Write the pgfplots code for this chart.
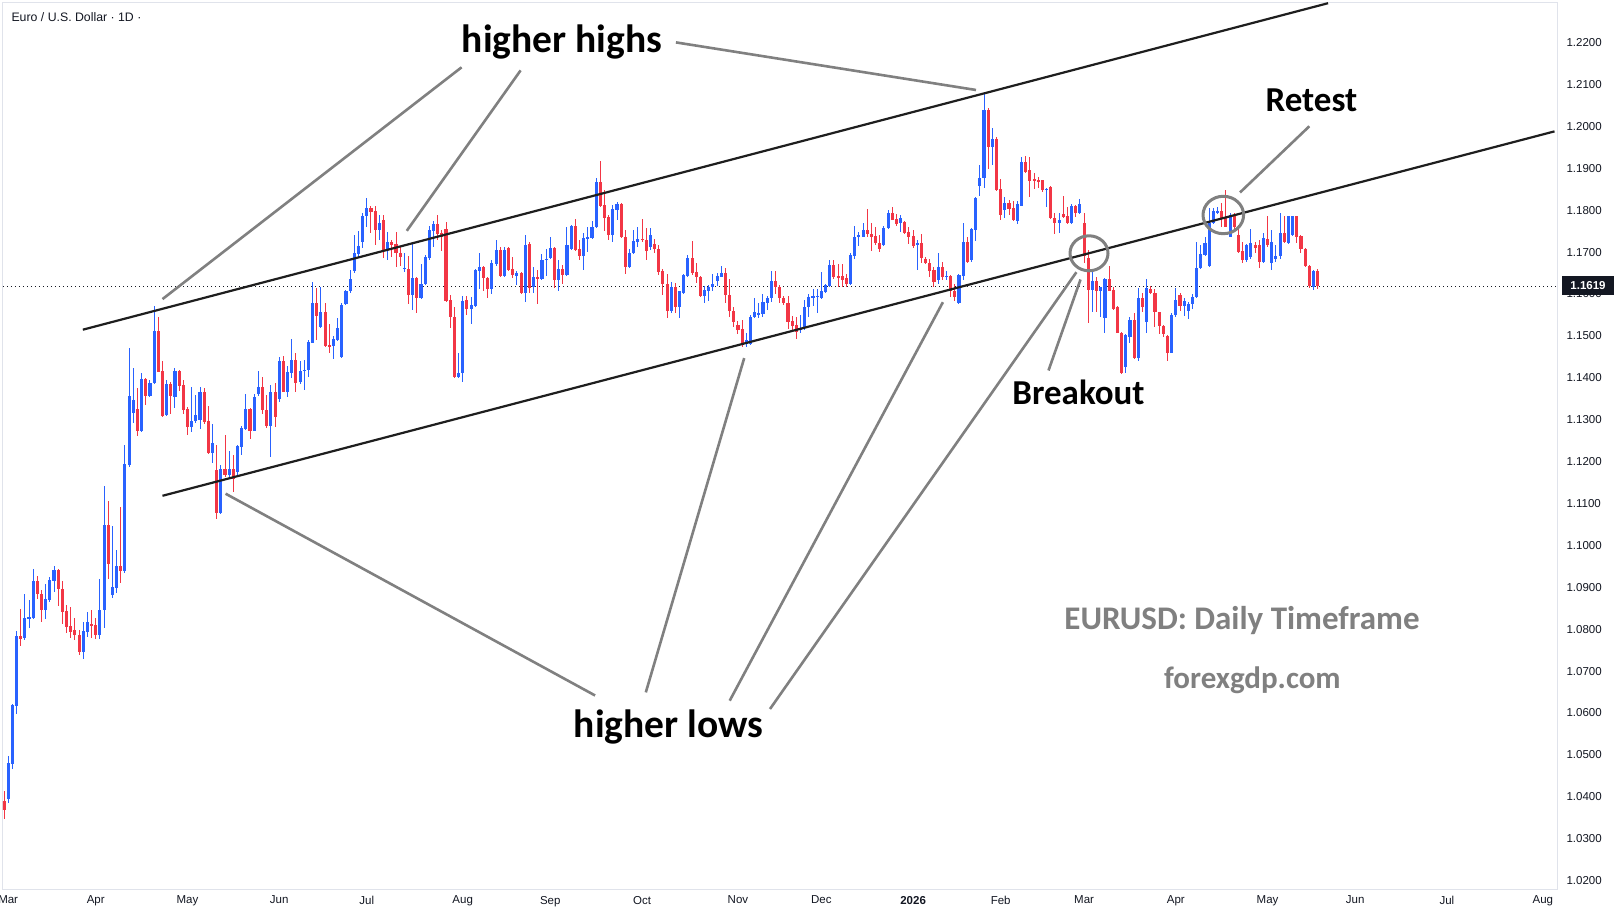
\documentclass[border=0pt]{standalone}
\usepackage{pgfplots}
\pgfplotsset{compat=1.18}
\usepackage{pgfplotstable}
\usepackage{fontspec}
\setmainfont{Liberation Sans}
\newfontfamily\annot{Carlito}
\definecolor{upc}{HTML}{2962FF}
\definecolor{dnc}{HTML}{F23645}
\definecolor{txt}{HTML}{131722}
\definecolor{gridc}{HTML}{E0E3EB}
\definecolor{ann}{HTML}{808080}
\definecolor{tl}{HTML}{1E1E1E}
\pgfplotstableread{
i o h l c
0 1.0391 1.0414 1.0347 1.0368
1 1.0395 1.0498 1.0385 1.0481
2 1.0478 1.0621 1.0467 1.0619
3 1.0617 1.0795 1.0598 1.0784
4 1.0784 1.0849 1.0760 1.0776
5 1.0778 1.0884 1.0774 1.0827
6 1.0824 1.0870 1.0802 1.0830
7 1.0827 1.0944 1.0824 1.0915
8 1.0915 1.0927 1.0872 1.0883
9 1.0883 1.0894 1.0817 1.0845
10 1.0845 1.0908 1.0824 1.0872
11 1.0870 1.0925 1.0866 1.0917
12 1.0915 1.0951 1.0889 1.0941
13 1.0941 1.0943 1.0855 1.0895
14 1.0897 1.0914 1.0812 1.0841
15 1.0843 1.0858 1.0792 1.0806
16 1.0808 1.0852 1.0778 1.0793
17 1.0797 1.0827 1.0774 1.0785
18 1.0786 1.0799 1.0739 1.0746
19 1.0746 1.0817 1.0730 1.0796
20 1.0794 1.0841 1.0782 1.0817
21 1.0813 1.0847 1.0780 1.0807
22 1.0810 1.0827 1.0776 1.0786
23 1.0786 1.0920 1.0776 1.0847
24 1.0845 1.1142 1.0802 1.1049
25 1.1049 1.1105 1.0920 1.0956
26 1.0882 1.1046 1.0874 1.0901
27 1.0899 1.0989 1.0886 1.0951
28 1.0951 1.1091 1.0910 1.0940
29 1.0940 1.1240 1.0935 1.1195
30 1.1193 1.1471 1.1186 1.1357
31 1.1317 1.1423 1.1293 1.1347
32 1.1325 1.1375 1.1262 1.1274
33 1.1274 1.1411 1.1270 1.1397
34 1.1397 1.1399 1.1334 1.1357
35 1.1357 1.1395 1.1354 1.1387
36 1.1388 1.1572 1.1386 1.1512
37 1.1512 1.1546 1.1413 1.1415
38 1.1416 1.1439 1.1306 1.1309
39 1.1311 1.1395 1.1309 1.1385
40 1.1385 1.1391 1.1314 1.1357
41 1.1355 1.1423 1.1329 1.1416
42 1.1416 1.1419 1.1369 1.1381
43 1.1383 1.1395 1.1314 1.1323
44 1.1326 1.1331 1.1264 1.1283
45 1.1283 1.1379 1.1271 1.1298
46 1.1298 1.1359 1.1293 1.1311
47 1.1299 1.1379 1.1278 1.1365
48 1.1365 1.1375 1.1290 1.1295
49 1.1298 1.1333 1.1218 1.1221
50 1.1221 1.1290 1.1196 1.1244
51 1.1180 1.1240 1.1062 1.1078
52 1.1078 1.1192 1.1075 1.1182
53 1.1182 1.1264 1.1164 1.1168
54 1.1168 1.1225 1.1164 1.1182
55 1.1182 1.1216 1.1128 1.1158
56 1.1176 1.1240 1.1168 1.1238
57 1.1236 1.1285 1.1216 1.1279
58 1.1278 1.1361 1.1275 1.1326
59 1.1326 1.1329 1.1255 1.1274
60 1.1274 1.1361 1.1272 1.1355
61 1.1361 1.1416 1.1357 1.1377
62 1.1379 1.1401 1.1314 1.1322
63 1.1324 1.1359 1.1279 1.1286
64 1.1285 1.1383 1.1210 1.1365
65 1.1365 1.1387 1.1283 1.1307
66 1.1349 1.1449 1.1343 1.1439
67 1.1439 1.1453 1.1365 1.1367
68 1.1367 1.1427 1.1355 1.1415
69 1.1412 1.1492 1.1399 1.1442
70 1.1442 1.1460 1.1367 1.1388
71 1.1391 1.1439 1.1385 1.1416
72 1.1416 1.1442 1.1371 1.1419
73 1.1418 1.1490 1.1403 1.1486
74 1.1483 1.1629 1.1482 1.1578
75 1.1578 1.1614 1.1490 1.1547
76 1.1522 1.1616 1.1520 1.1558
77 1.1558 1.1578 1.1474 1.1476
78 1.1477 1.1528 1.1460 1.1475
79 1.1475 1.1500 1.1446 1.1492
80 1.1490 1.1542 1.1488 1.1518
81 1.1450 1.1579 1.1448 1.1574
82 1.1576 1.1610 1.1573 1.1608
83 1.1606 1.1657 1.1603 1.1635
84 1.1655 1.1741 1.1650 1.1697
85 1.1695 1.1751 1.1685 1.1715
86 1.1725 1.1793 1.1709 1.1786
87 1.1786 1.1828 1.1761 1.1806
88 1.1806 1.1810 1.1745 1.1796
89 1.1797 1.1810 1.1717 1.1753
90 1.1753 1.1789 1.1730 1.1770
91 1.1777 1.1789 1.1685 1.1705
92 1.1705 1.1749 1.1681 1.1725
93 1.1725 1.1729 1.1688 1.1717
94 1.1719 1.1749 1.1664 1.1697
95 1.1699 1.1711 1.1667 1.1688
96 1.1661 1.1697 1.1653 1.1662
97 1.1660 1.1691 1.1576 1.1598
98 1.1598 1.1719 1.1562 1.1639
99 1.1639 1.1641 1.1555 1.1591
100 1.1591 1.1672 1.1589 1.1624
101 1.1624 1.1693 1.1622 1.1689
102 1.1687 1.1762 1.1680 1.1753
103 1.1751 1.1775 1.1711 1.1766
104 1.1766 1.1789 1.1729 1.1743
105 1.1745 1.1752 1.1703 1.1735
106 1.1755 1.1772 1.1582 1.1584
107 1.1586 1.1598 1.1518 1.1544
108 1.1545 1.1570 1.1399 1.1401
109 1.1401 1.1460 1.1399 1.1412
110 1.1411 1.1595 1.1391 1.1583
111 1.1586 1.1595 1.1550 1.1564
112 1.1564 1.1594 1.1528 1.1574
113 1.1572 1.1660 1.1570 1.1657
114 1.1656 1.1697 1.1611 1.1665
115 1.1665 1.1667 1.1606 1.1637
116 1.1637 1.1640 1.1590 1.1613
117 1.1613 1.1681 1.1599 1.1673
118 1.1672 1.1729 1.1667 1.1705
119 1.1704 1.1713 1.1641 1.1643
120 1.1643 1.1712 1.1641 1.1704
121 1.1709 1.1712 1.1655 1.1657
122 1.1659 1.1689 1.1637 1.1645
123 1.1644 1.1655 1.1621 1.1649
124 1.1649 1.1653 1.1601 1.1603
125 1.1603 1.1741 1.1582 1.1717
126 1.1719 1.1725 1.1602 1.1614
127 1.1616 1.1665 1.1602 1.1640
128 1.1641 1.1657 1.1576 1.1636
129 1.1636 1.1695 1.1633 1.1681
130 1.1681 1.1707 1.1644 1.1684
131 1.1685 1.1735 1.1683 1.1709
132 1.1709 1.1711 1.1614 1.1633
133 1.1633 1.1681 1.1608 1.1660
134 1.1660 1.1669 1.1625 1.1645
135 1.1645 1.1761 1.1643 1.1717
136 1.1707 1.1765 1.1704 1.1762
137 1.1762 1.1779 1.1703 1.1705
138 1.1707 1.1729 1.1681 1.1691
139 1.1691 1.1745 1.1657 1.1733
140 1.1733 1.1759 1.1701 1.1735
141 1.1733 1.1775 1.1731 1.1761
142 1.1759 1.1878 1.1757 1.1867
143 1.1867 1.1917 1.1808 1.1810
144 1.1812 1.1848 1.1751 1.1781
145 1.1783 1.1789 1.1729 1.1741
146 1.1741 1.1812 1.1725 1.1802
147 1.1801 1.1820 1.1777 1.1815
148 1.1815 1.1817 1.1733 1.1735
149 1.1735 1.1753 1.1648 1.1664
150 1.1664 1.1707 1.1662 1.1699
151 1.1697 1.1753 1.1695 1.1727
152 1.1725 1.1759 1.1712 1.1732
153 1.1732 1.1778 1.1725 1.1729
154 1.1729 1.1757 1.1681 1.1703
155 1.1713 1.1757 1.1705 1.1741
156 1.1719 1.1731 1.1697 1.1707
157 1.1707 1.1717 1.1645 1.1653
158 1.1655 1.1659 1.1598 1.1624
159 1.1625 1.1648 1.1542 1.1560
160 1.1560 1.1629 1.1555 1.1617
161 1.1616 1.1626 1.1555 1.1568
162 1.1568 1.1608 1.1542 1.1606
163 1.1603 1.1648 1.1601 1.1645
164 1.1643 1.1693 1.1640 1.1685
165 1.1685 1.1727 1.1645 1.1649
166 1.1653 1.1673 1.1627 1.1640
167 1.1640 1.1643 1.1593 1.1595
168 1.1595 1.1620 1.1578 1.1610
169 1.1608 1.1622 1.1584 1.1616
170 1.1616 1.1648 1.1606 1.1624
171 1.1632 1.1651 1.1618 1.1643
172 1.1641 1.1667 1.1640 1.1649
173 1.1649 1.1661 1.1578 1.1598
174 1.1598 1.1635 1.1546 1.1560
175 1.1560 1.1570 1.1522 1.1532
176 1.1526 1.1536 1.1505 1.1514
177 1.1516 1.1538 1.1474 1.1478
178 1.1481 1.1506 1.1474 1.1490
179 1.1481 1.1550 1.1479 1.1546
180 1.1544 1.1590 1.1542 1.1558
181 1.1550 1.1578 1.1542 1.1555
182 1.1552 1.1600 1.1544 1.1582
183 1.1578 1.1595 1.1562 1.1590
184 1.1590 1.1656 1.1580 1.1632
185 1.1632 1.1654 1.1600 1.1616
186 1.1617 1.1621 1.1579 1.1590
187 1.1590 1.1595 1.1573 1.1578
188 1.1578 1.1595 1.1516 1.1534
189 1.1536 1.1548 1.1510 1.1524
190 1.1526 1.1546 1.1492 1.1510
191 1.1514 1.1549 1.1508 1.1520
192 1.1518 1.1586 1.1515 1.1570
193 1.1568 1.1600 1.1546 1.1594
194 1.1593 1.1611 1.1571 1.1595
195 1.1593 1.1613 1.1555 1.1596
196 1.1590 1.1653 1.1588 1.1608
197 1.1605 1.1624 1.1603 1.1621
198 1.1619 1.1680 1.1616 1.1669
199 1.1669 1.1680 1.1635 1.1641
200 1.1643 1.1672 1.1617 1.1638
201 1.1643 1.1672 1.1616 1.1634
202 1.1637 1.1648 1.1616 1.1624
203 1.1624 1.1699 1.1621 1.1693
204 1.1691 1.1762 1.1683 1.1737
205 1.1736 1.1749 1.1715 1.1740
206 1.1737 1.1769 1.1735 1.1753
207 1.1753 1.1802 1.1737 1.1743
208 1.1744 1.1769 1.1703 1.1737
209 1.1738 1.1761 1.1717 1.1721
210 1.1721 1.1741 1.1701 1.1707
211 1.1717 1.1763 1.1715 1.1757
212 1.1757 1.1800 1.1755 1.1793
213 1.1793 1.1808 1.1776 1.1777
214 1.1778 1.1791 1.1762 1.1767
215 1.1769 1.1789 1.1749 1.1781
216 1.1773 1.1775 1.1743 1.1745
217 1.1749 1.1759 1.1719 1.1737
218 1.1738 1.1753 1.1710 1.1714
219 1.1719 1.1729 1.1657 1.1722
220 1.1722 1.1743 1.1673 1.1685
221 1.1684 1.1689 1.1671 1.1673
222 1.1675 1.1683 1.1641 1.1656
223 1.1657 1.1665 1.1617 1.1629
224 1.1633 1.1699 1.1624 1.1664
225 1.1664 1.1677 1.1633 1.1641
226 1.1641 1.1656 1.1633 1.1643
227 1.1643 1.1645 1.1594 1.1606
228 1.1608 1.1625 1.1584 1.1592
229 1.1578 1.1648 1.1576 1.1645
230 1.1643 1.1770 1.1633 1.1725
231 1.1724 1.1737 1.1675 1.1677
232 1.1680 1.1757 1.1677 1.1754
233 1.1753 1.1832 1.1727 1.1828
234 1.1858 1.1908 1.1834 1.1878
235 1.1878 1.2083 1.1852 1.2039
236 1.2039 1.2045 1.1898 1.1952
237 1.1952 1.1995 1.1908 1.1969
238 1.1969 1.1975 1.1846 1.1848
239 1.1850 1.1874 1.1777 1.1789
240 1.1800 1.1831 1.1781 1.1818
241 1.1817 1.1824 1.1789 1.1802
242 1.1805 1.1821 1.1775 1.1777
243 1.1775 1.1823 1.1767 1.1815
244 1.1810 1.1926 1.1809 1.1916
245 1.1916 1.1929 1.1889 1.1892
246 1.1895 1.1926 1.1832 1.1870
247 1.1874 1.1888 1.1850 1.1871
248 1.1871 1.1880 1.1852 1.1868
249 1.1872 1.1873 1.1843 1.1848
250 1.1848 1.1853 1.1807 1.1851
251 1.1856 1.1858 1.1778 1.1781
252 1.1782 1.1793 1.1743 1.1770
253 1.1770 1.1793 1.1745 1.1777
254 1.1792 1.1834 1.1781 1.1783
255 1.1785 1.1808 1.1768 1.1770
256 1.1770 1.1815 1.1768 1.1810
257 1.1810 1.1812 1.1784 1.1794
258 1.1794 1.1826 1.1792 1.1815
259 1.1770 1.1794 1.1673 1.1691
260 1.1685 1.1705 1.1530 1.1610
261 1.1610 1.1653 1.1558 1.1631
262 1.1631 1.1641 1.1558 1.1606
263 1.1606 1.1617 1.1546 1.1616
264 1.1542 1.1637 1.1506 1.1635
265 1.1635 1.1667 1.1606 1.1608
266 1.1610 1.1616 1.1562 1.1563
267 1.1568 1.1571 1.1506 1.1508
268 1.1508 1.1510 1.1409 1.1411
269 1.1425 1.1504 1.1412 1.1502
270 1.1498 1.1546 1.1484 1.1538
271 1.1538 1.1554 1.1445 1.1447
272 1.1447 1.1614 1.1441 1.1590
273 1.1590 1.1602 1.1558 1.1568
274 1.1532 1.1635 1.1508 1.1614
275 1.1611 1.1619 1.1600 1.1603
276 1.1603 1.1613 1.1521 1.1556
277 1.1556 1.1558 1.1505 1.1524
278 1.1524 1.1526 1.1498 1.1505
279 1.1500 1.1502 1.1441 1.1460
280 1.1460 1.1555 1.1458 1.1550
281 1.1551 1.1614 1.1546 1.1586
282 1.1598 1.1603 1.1560 1.1572
283 1.1572 1.1590 1.1548 1.1583
284 1.1560 1.1582 1.1540 1.1575
285 1.1575 1.1600 1.1565 1.1594
286 1.1592 1.1725 1.1590 1.1661
287 1.1661 1.1717 1.1659 1.1695
288 1.1693 1.1737 1.1690 1.1721
289 1.1667 1.1805 1.1664 1.1769
290 1.1769 1.1805 1.1767 1.1797
291 1.1794 1.1808 1.1792 1.1798
292 1.1798 1.1818 1.1761 1.1781
293 1.1782 1.1848 1.1759 1.1761
294 1.1737 1.1793 1.1735 1.1789
295 1.1789 1.1793 1.1753 1.1761
296 1.1741 1.1765 1.1699 1.1701
297 1.1703 1.1725 1.1673 1.1680
298 1.1680 1.1720 1.1676 1.1717
299 1.1688 1.1754 1.1684 1.1721
300 1.1717 1.1725 1.1697 1.1709
301 1.1717 1.1729 1.1661 1.1677
302 1.1677 1.1745 1.1675 1.1733
303 1.1731 1.1786 1.1713 1.1717
304 1.1675 1.1753 1.1657 1.1725
305 1.1684 1.1717 1.1677 1.1691
306 1.1690 1.1794 1.1684 1.1746
307 1.1746 1.1785 1.1721 1.1723
308 1.1722 1.1787 1.1720 1.1785
309 1.1741 1.1787 1.1738 1.1785
310 1.1785 1.1787 1.1721 1.1737
311 1.1738 1.1741 1.1699 1.1707
312 1.1707 1.1709 1.1665 1.1667
313 1.1666 1.1670 1.1614 1.1619
314 1.1616 1.1657 1.1609 1.1656
315 1.1656 1.1660 1.1613 1.1619
}\candles
\begin{document}
\begin{tikzpicture}[x=1pt,y=1pt]
\fill[white] (0,0) rectangle (1623,921);
\path[use as bounding box] (0,0) rectangle (1623,921);
\begin{axis}[
  at={(3pt,31pt)}, anchor=south west,
  scale only axis, width=1554pt, height=887pt,
  xmin=-0.24, xmax=372.4, ymin=1.01776, ymax=1.22945,
  axis line style={draw=gridc, line width=1pt},
  major tick length=0pt,
  xtick={1,22,44,66,87,110,131,153,176,196,218,239,259,281,303,324,346,369},
  xticklabels={Mar,Apr,May,Jun,Jul,Aug,Sep,Oct,Nov,Dec,\textbf{2026},Feb,Mar,Apr,May,Jun,Jul,Aug},
  ytick={1.02,1.03,1.04,1.05,1.06,1.07,1.08,1.09,1.10,1.11,1.12,1.13,1.14,1.15,1.16,1.17,1.18,1.19,1.20,1.21,1.22},
  yticklabels={1.0200,1.0300,1.0400,1.0500,1.0600,1.0700,1.0800,1.0900,1.1000,1.1100,1.1200,1.1300,1.1400,1.1500,1.1600,1.1700,1.1800,1.1900,1.2000,1.2100,1.2200},
  yticklabel pos=right,
  xticklabel style={font=\fontsize{11.5}{13}\selectfont, text=txt, yshift=-2.5pt},
  yticklabel style={font=\fontsize{11.5}{13}\selectfont, text=txt, anchor=west, xshift=6pt},
  unbounded coords=discard,
]
% dotted last-price line
\draw[txt, line width=1pt, dash pattern=on 1pt off 3pt] (axis cs:-0.24,1.1619) -- (axis cs:372.4,1.1619);
% wicks up
\addplot[draw=none, mark=none, forget plot,
  error bars/.cd, y dir=both, y explicit, error mark=none,
  error bar style={draw=upc, line width=1pt}]
  table[x=i, y expr={\thisrow{c}>=\thisrow{o} ? 0.5*(\thisrow{h}+\thisrow{l}) : nan},
        y error expr={0.5*(\thisrow{h}-\thisrow{l})}] {\candles};
% wicks down
\addplot[draw=none, mark=none, forget plot,
  error bars/.cd, y dir=both, y explicit, error mark=none,
  error bar style={draw=dnc, line width=1pt}]
  table[x=i, y expr={\thisrow{c}<\thisrow{o} ? 0.5*(\thisrow{h}+\thisrow{l}) : nan},
        y error expr={0.5*(\thisrow{h}-\thisrow{l})}] {\candles};
% bodies up
\addplot[draw=none, mark=none, forget plot,
  error bars/.cd, y dir=both, y explicit, error mark=none,
  error bar style={draw=upc, line width=3.1pt}]
  table[x=i, y expr={\thisrow{c}>=\thisrow{o} ? 0.5*(\thisrow{o}+\thisrow{c}) : nan},
        y error expr={max(0.5*abs(\thisrow{c}-\thisrow{o}),0.00012)}] {\candles};
% bodies down
\addplot[draw=none, mark=none, forget plot,
  error bars/.cd, y dir=both, y explicit, error mark=none,
  error bar style={draw=dnc, line width=3.1pt}]
  table[x=i, y expr={\thisrow{c}<\thisrow{o} ? 0.5*(\thisrow{o}+\thisrow{c}) : nan},
        y error expr={max(0.5*abs(\thisrow{c}-\thisrow{o}),0.00012)}] {\candles};
% channel lines
\addplot[draw=tl, line width=2.2pt] coordinates {(18.90,1.15148) (317.5,1.2294)};
\addplot[draw=tl, line width=2.2pt] coordinates {(38.0,1.11184) (371.8,1.19881)};
\end{axis}
% price label
\fill[txt] (1562,625.5) rectangle (1614,644.5);
\node[text=white, font=\fontsize{11.5}{13}\selectfont\bfseries] at (1588,635) {1.1619};
% title
\node[anchor=west, text=txt, font=\fontsize{12.3}{14}\selectfont] at (8,903.4) {Euro / U.S. Dollar · 1D ·};
% pointer lines (pixel coords -> y = 921 - py)
\begin{scope}[draw=ann, line width=2.6pt]
\draw (461.6,853.7) -- (162.5,621.9);
\draw (520.6,850.6) -- (406.8,690.2);
\draw (675.9,878.6) -- (976.0,831.0);
\draw (595.1,225.5) -- (225.6,427.3);
\draw (645.8,228.6) -- (744.2,562.9);
\draw (729.7,220.3) -- (942.9,618.8);
\draw (770.0,212.0) -- (1076.4,648.8);
\draw (1048.5,550.5) -- (1080.5,641.5);
\draw (1309.3,794.7) -- (1240.0,728.5);
\end{scope}
\draw[ann, line width=3pt] (1089,667.7) ellipse [x radius=19, y radius=17.5];
\draw[ann, line width=3pt] (1223.3,706) ellipse [x radius=20.3, y radius=18.7];
% annotation texts
\node[font=\annot\bfseries\fontsize{39.5}{42}\selectfont] at (562,878.6) {higher highs};
\node[font=\annot\bfseries\fontsize{39.5}{42}\selectfont] at (668.6,194.4) {higher lows};
\node[font=\annot\bfseries\fontsize{35}{38}\selectfont] at (1078.5,528.7) {Breakout};
\node[font=\annot\bfseries\fontsize{35}{38}\selectfont] at (1311.4,820.6) {Retest};
\node[text=ann, font=\annot\bfseries\fontsize{33}{36}\selectfont] at (1242,300) {EURUSD: Daily Timeframe};
\node[text=ann, font=\annot\bfseries\fontsize{31}{34}\selectfont] at (1252.4,241) {forexgdp.com};
\end{tikzpicture}
\end{document}
